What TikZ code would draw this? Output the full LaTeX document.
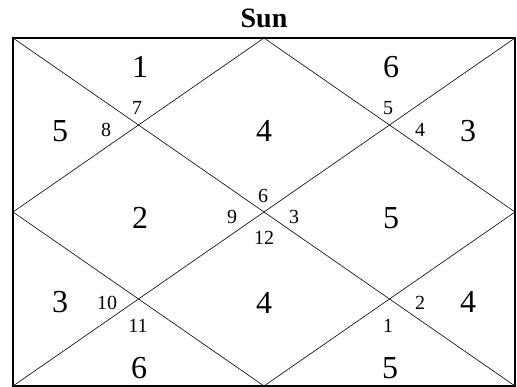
\documentclass[tikz,border=0pt]{standalone}
\usepackage{fontspec}
\setmainfont{Liberation Serif}
\usepackage{tikz}
\usetikzlibrary{calc}

\begin{document}
\begin{tikzpicture}[
            x=1pt, y=-1pt,
            every node/.style={align=center, inner sep=0pt},
            bignum/.style={font=\fontsize{32}{36}\selectfont},
            smallnum/.style={font=\fontsize{20}{24}\selectfont}
        ]
        \useasboundingbox (0,0) rectangle (517,387);

        % Frame of the chart
        \def\xl{13}     % left edge
        \def\xr{515}    % right edge
        \def\yt{38}     % top edge
        \def\yb{386}    % bottom edge
        \pgfmathsetmacro{\xm}{(\xl+\xr)/2}
        \pgfmathsetmacro{\ym}{(\yt+\yb)/2}

        \coordinate (tl) at (\xl, \yt);
        \coordinate (tr) at (\xr, \yt);
        \coordinate (bl) at (\xl, \yb);
        \coordinate (br) at (\xr, \yb);
        \coordinate (tm) at (\xm, \yt);
        \coordinate (bm) at (\xm, \yb);
        \coordinate (lm) at (\xl, \ym);
        \coordinate (rm) at (\xr, \ym);

        % --- Title ---
        \node[font=\fontsize{28}{32}\selectfont\bfseries] (title) at (\xm, 18) {Sun};

        % --- Lines ---
        \draw[line width=1.6pt] (tl) rectangle (br);
        \draw[line width=0.6pt] (tl) -- (br);
        \draw[line width=0.6pt] (tr) -- (bl);
        \draw[line width=0.6pt] (tm) -- (rm) -- (bm) -- (lm) -- cycle;

        % --- Large numbers (houses) ---
        \node[bignum] (hI)    at (140, 67)  {1};
        \node[bignum] (hII)   at (391, 67)  {6};
        \node[bignum] (hIII)  at (60, 131)  {5};
        \node[bignum] (hIV)   at (\xm, 131) {4};
        \node[bignum] (hV)    at (468, 131) {3};
        \node[bignum] (hVI)   at (140, 218) {2};
        \node[bignum] (hVII)  at (391, 218) {5};
        \node[bignum] (hVIII) at (60, 302)  {3};
        \node[bignum] (hIX)   at (\xm, 303) {4};
        \node[bignum] (hX)    at (468, 302) {4};
        \node[bignum] (hXI)   at (139, 368) {6};
        \node[bignum] (hXII)  at (390, 368) {5};

        % --- Small numbers (signs) ---
        \node[smallnum] (sVII)  at (137, 108) {7};
        \node[smallnum] (sVIII) at (106, 130) {8};
        \node[smallnum] (sV)    at (388, 108) {5};
        \node[smallnum] (sIV)   at (420, 130) {4};
        \node[smallnum] (sVI)   at (263, 196) {6};
        \node[smallnum] (sIX)   at (232, 217) {9};
        \node[smallnum] (sIII)  at (294, 217) {3};
        \node[smallnum] (sXII)  at (264, 238) {12};
        \node[smallnum] (sX)    at (107, 303) {10};
        \node[smallnum] (sXI)   at (138, 326) {11};
        \node[smallnum] (sII)   at (420, 303) {2};
        \node[smallnum] (sI)    at (388, 326) {1};

        \end{tikzpicture}
\end{document}
